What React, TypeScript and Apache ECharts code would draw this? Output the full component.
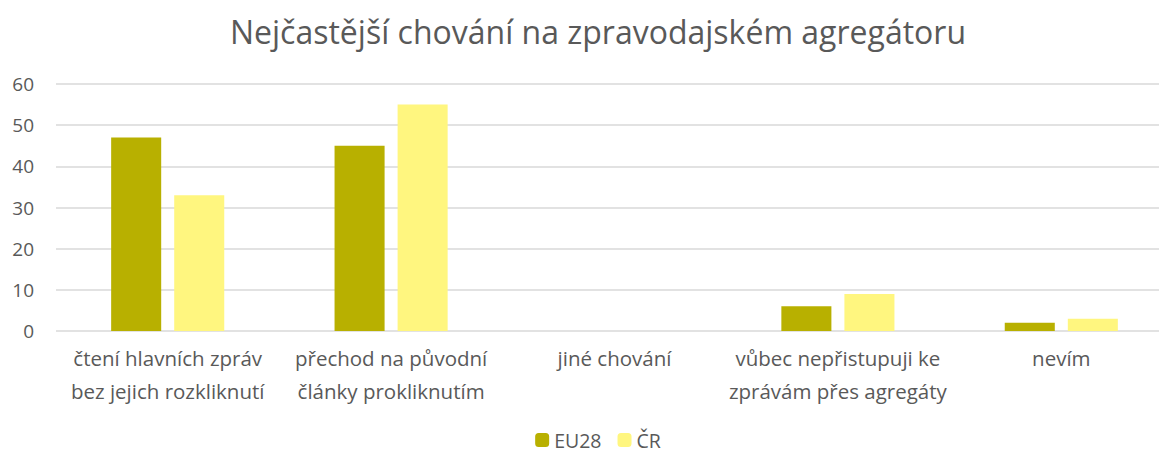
import React, { useEffect, useRef } from "react";
import * as echarts from "echarts";

const categories = [
  "čtení hlavních zpráv\nbez jejich rozkliknutí",
  "přechod na původní\nčlánky prokliknutím",
  "jiné chování",
  "vůbec nepřistupuji ke\nzprávám přes agregáty",
  "nevím",
];
const eu28 = [47, 45, 0, 6, 2];
const cr = [33, 55, 0, 9, 3];
const yTicks = { min: 0, max: 60, interval: 10 };

export default function App() {
  const ref = useRef<HTMLDivElement>(null);
  useEffect(() => {
    if (!ref.current) return;
    const chart = echarts.init(ref.current, undefined, { renderer: "svg" });
    const font = "'Open Sans', sans-serif";
    chart.setOption({
      animation: false,
      textStyle: { fontFamily: font },
      title: {
        text: "Nejčastější chování na zpravodajském agregátoru",
        left: "center",
        top: 10,
        textStyle: { fontSize: 32, fontWeight: "normal", color: "#595959", fontFamily: font },
      },
      legend: {
        bottom: 2,
        left: "center",
        padding: 0,
        itemWidth: 14,
        itemHeight: 14,
        itemGap: 16,
        textStyle: { fontSize: 19.5, lineHeight: 20, color: "#595959", fontFamily: font },
        data: ["EU28", "ČR"],
      },
      grid: { left: 56, top: 84, width: 1117, height: 247, containLabel: false },
      xAxis: {
        type: "category",
        data: categories,
        axisLine: { show: false },
        axisTick: { show: false },
        axisLabel: {
          color: "#595959",
          fontSize: 20.5,
          lineHeight: 33,
          margin: 10,
          interval: 0,
          fontFamily: font,
        },
      },
      yAxis: {
        type: "value",
        min: yTicks.min,
        max: yTicks.max,
        interval: yTicks.interval,
        axisLine: { show: false },
        axisTick: { show: false },
        axisLabel: { color: "#595959", fontSize: 19, margin: 22, fontFamily: font },
        splitLine: { lineStyle: { color: "#D9D9D9", width: 1.5 } },
      },
      series: [
        {
          name: "EU28",
          type: "bar",
          data: eu28,
          barWidth: "22.4%",
          barGap: "26%",
          itemStyle: { color: "#B8B000" },
        },
        {
          name: "ČR",
          type: "bar",
          data: cr,
          barWidth: "22.4%",
          itemStyle: { color: "#FFF67F" },
        },
      ],
    });
    return () => chart.dispose();
  }, []);
  return (
    <div
      style={{ position: "absolute", left: 0, top: 0, width: 1159, height: 452, overflow: "hidden", background: "#fff" }}
    >
      <div ref={ref} style={{ width: 1196, height: 452 }} />
    </div>
  );
}
